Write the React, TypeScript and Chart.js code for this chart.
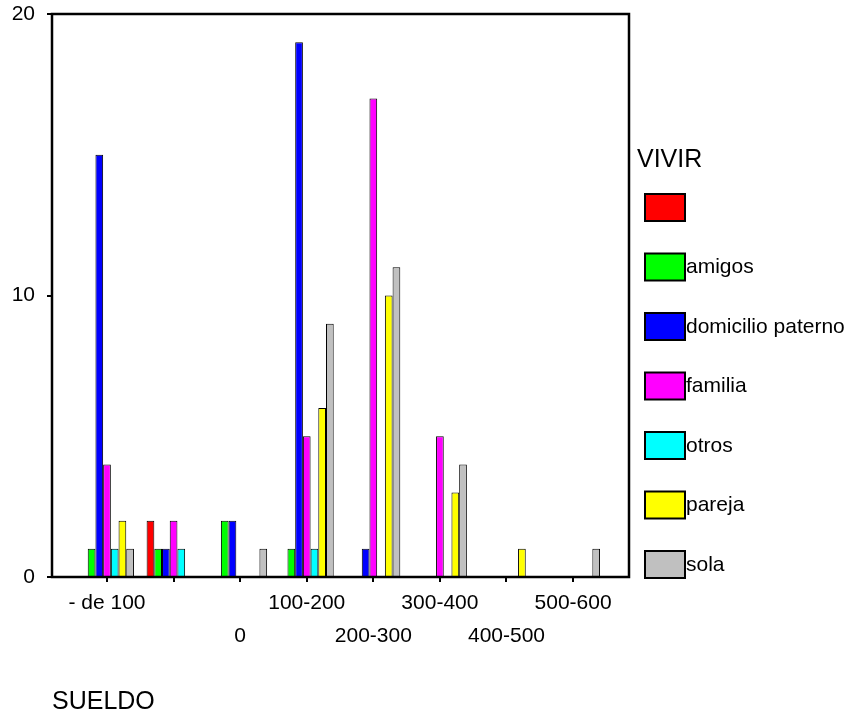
import React, { useEffect, useRef } from "react";
import { Chart, registerables } from "chart.js";

Chart.register(...registerables);

const FONT = "'Liberation Sans', Arial, Helvetica, sans-serif";

// X categories (SUELDO)
const categories = ["- de 100", "", "0", "100-200", "200-300", "300-400", "400-500", "500-600"];

// Series (VIVIR)
const seriesNames = ["", "amigos", "domicilio paterno", "familia", "otros", "pareja", "sola"];
const seriesColors = ["#FF0000", "#00FF00", "#0000FF", "#FF00FF", "#00FFFF", "#FFFF00", "#C0C0C0"];

const blankValues = [0, 2, 0, 0, 0, 0, 0, 0];
const amigosValues = [1, 1, 2, 1, 0, 0, 0, 0];
const domicilioValues = [15, 1, 2, 19, 1, 0, 0, 0];
const familiaValues = [4, 2, 0, 5, 17, 5, 0, 0];
const otrosValues = [1, 1, 0, 1, 0, 0, 0, 0];
const parejaValues = [2, 0, 0, 6, 10, 3, 1, 0];
const solaValues = [1, 0, 1, 9, 11, 4, 0, 1];

const seriesValues = [blankValues, amigosValues, domicilioValues, familiaValues, otrosValues, parejaValues, solaValues];

const yTickValues = [0, 10, 20];
const xTitle = "SUELDO";
const legendTitle = "VIVIR";

// staggered rows: alternate among non-empty labels
const labelRows: number[] = (() => {
  let k = 0;
  return categories.map((c) => (c === "" ? 0 : k++ % 2));
})();

const framePlugin = {
  id: "frame",
  afterDatasetsDraw(chart: any) {
    const { ctx, chartArea } = chart;
    ctx.save();
    ctx.strokeStyle = "#000";
    ctx.lineWidth = 2.5;
    ctx.strokeRect(chartArea.left, chartArea.top, chartArea.right - chartArea.left, chartArea.bottom - chartArea.top);
    ctx.restore();
  },
};

const legendPlugin = {
  id: "spssLegend",
  afterDraw(chart: any) {
    const ctx = chart.ctx;
    ctx.save();
    ctx.textBaseline = "middle";
    ctx.textAlign = "left";
    ctx.fillStyle = "#000";
    ctx.font = `25px ${FONT}`;
    ctx.fillText(legendTitle, 637, 160);
    chart.data.datasets.forEach((ds: any, i: number) => {
      const top = 194 + i * 59.5;
      ctx.fillStyle = ds.backgroundColor;
      ctx.fillRect(645, top, 40, 27);
      ctx.lineWidth = 2;
      ctx.strokeStyle = "#000";
      ctx.strokeRect(645, top, 40, 27);
      ctx.fillStyle = "#000";
      ctx.font = `21px ${FONT}`;
      ctx.fillText(ds.label, 686, top + 14);
    });
    ctx.restore();
  },
};

export default function App() {
  const canvasRef = useRef<HTMLCanvasElement | null>(null);

  useEffect(() => {
    if (!canvasRef.current) return;
    Chart.defaults.font.family = FONT;
    const datasets = seriesNames.map((name, si) => ({
      label: name,
      data: seriesValues[si].map((v, ci) => ({ x: ci, y: v })),
      backgroundColor: seriesColors[si],
      borderColor: "#000",
      borderWidth: 1,
      categoryPercentage: 0.81,
      barPercentage: 1.0,
    }));

    const chart = new Chart(canvasRef.current, {
      type: "bar",
      data: { datasets },
      options: {
        responsive: false,
        animation: false,
        layout: { padding: { top: 14, right: 221, left: 0, bottom: 0 } },
        plugins: {
          legend: { display: false },
          tooltip: { enabled: false },
        },
        scales: {
          x: {
            type: "linear",
            min: -0.826,
            max: 7.84,
            offset: false,
            afterFit: (scale: any) => {
              scale.height = 142;
              scale.paddingLeft = 0;
              scale.paddingRight = 0;
            },
            border: { display: false },
            grid: {
              display: true,
              offset: false,
              drawOnChartArea: false,
              drawTicks: true,
              tickLength: 5,
              color: "#000",
              lineWidth: 2,
            },
            ticks: {
              stepSize: 1,
              includeBounds: false,
              autoSkip: false,
              maxRotation: 0,
              minRotation: 0,
              padding: 4.5,
              color: "#000",
              font: { size: 21, lineHeight: 33 / 21 },
              callback: (value: any) => {
                const i = Math.round(Number(value));
                const lab = categories[i];
                if (lab === undefined || lab === "") return "";
                return labelRows[i] === 0 ? [lab, ""] : ["", lab];
              },
            },
            title: {
              display: true,
              text: xTitle,
              align: "start",
              color: "#000",
              font: { size: 25, lineHeight: 1.2 },
              padding: { top: 0, bottom: 1.5 },
            },
          },
          y: {
            type: "linear",
            min: 0,
            max: 20,
            afterFit: (scale: any) => {
              scale.width = 52;
              scale.paddingTop = 0;
              scale.paddingBottom = 0;
            },
            afterBuildTicks: (scale: any) => {
              scale.ticks = yTickValues.map((v) => ({ value: v }));
            },
            border: { display: false },
            grid: {
              display: true,
              offset: false,
              drawOnChartArea: false,
              drawTicks: true,
              tickLength: 5,
              color: "#000",
              lineWidth: 2,
            },
            ticks: {
              padding: 12,
              color: "#000",
              font: { size: 21 },
            },
          },
        },
      } as any,
      plugins: [framePlugin, legendPlugin],
    });

    return () => chart.destroy();
  }, []);

  return (
    <div style={{ position: "fixed", left: 0, top: 0, width: 850, height: 719, background: "#fff" }}>
      <canvas ref={canvasRef} width={850} height={719} style={{ display: "block" }} />
    </div>
  );
}
